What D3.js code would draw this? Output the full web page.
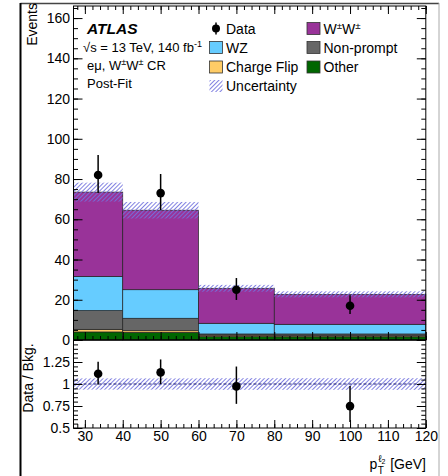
<!DOCTYPE html>
<html>
<head>
<meta charset="utf-8">
<script src="https://cdn.jsdelivr.net/npm/d3@7"></script>
<style>
  body { margin: 0; background: #fff; }
  svg { display: block; font-family: 'Liberation Sans', Arial, Helvetica, sans-serif; }
</style>
</head>
<body>
<div id="chart"></div>
<script>
// 分箱边界 (GeV)
const binEdges = [27, 40, 60, 80, 120]
// 各过程事例数 (post-fit)，自下而上堆叠
const other = [4.0, 3.8, 1.7, 1.6]
const chargeFlip = [1.3, 0.8, 0.7, 0.5]
const nonPrompt = [9.3, 6.2, 0.6, 0.9]
const wz = [17.0, 14.2, 5.3, 4.8]
const wwss = [41.9, 39.5, 17.4, 14.9]
// 本底总不确定度
const bkgUnc = [4.7, 4.1, 1.7, 1.5]
// 数据点
const dataCenters = [33.5, 50, 70, 100]
const dataValues = [82, 73, 25, 17]
const dataErrUp = [10, 9.5, 5.8, 5.2]
const dataErrDown = [9, 8.5, 5.1, 4.1]
// 刻度
const xTicks = [30, 40, 50, 60, 70, 80, 90, 100, 110, 120]
const yTicks = [0, 20, 40, 60, 80, 100, 120, 140, 160]
const ratioTicks = [0.5, 0.75, 1, 1.25, 1.5]

const width = 448
const height = 476
const font = "'Liberation Sans', Arial, Helvetica, sans-serif"

// 面板位置
const plotLeft = 73.5
const plotRight = 425.8
const upperTop = 6
const upperBottom = 340
const lowerTop = 340
const lowerBottom = 428

const keys = ['other', 'chargeFlip', 'nonPrompt', 'wz', 'wwss']
const colors = {
  other: '#006600',
  chargeFlip: '#ffcc66',
  nonPrompt: '#666666',
  wz: '#66ccff',
  wwss: '#993399'
}
const hatchColor = '#7373de'

const bins = binEdges.slice(0, -1).map((lo, i) => ({
  lo,
  hi: binEdges[i + 1],
  other: other[i],
  chargeFlip: chargeFlip[i],
  nonPrompt: nonPrompt[i],
  wz: wz[i],
  wwss: wwss[i]
}))
const totals = bins.map((b) => d3.sum(keys, (k) => b[k]))
const series = d3.stack().keys(keys)(bins)

const x = d3.scaleLinear().domain([binEdges[0], binEdges[binEdges.length - 1]]).range([plotLeft, plotRight])
const y = d3.scaleLinear().domain([0, 166]).range([upperBottom, upperTop])
const yr = d3.scaleLinear().domain([0.5, 1.5]).range([lowerBottom, lowerTop])

const svg = d3.select('#chart')
  .append('svg')
  .attr('width', width)
  .attr('height', height)

// 斜线填充
const defs = svg.append('defs')
defs.append('pattern')
  .attr('id', 'hatch')
  .attr('patternUnits', 'userSpaceOnUse')
  .attr('width', 3)
  .attr('height', 3)
  .attr('patternTransform', 'rotate(45)')
  .append('line')
  .attr('x1', 1.5).attr('y1', 0)
  .attr('x2', 1.5).attr('y2', 3)
  .attr('stroke', hatchColor)
  .attr('stroke-width', 0.9)

// 外框
svg.append('line').attr('x1', 20.5).attr('y1', 3.5).attr('x2', 439).attr('y2', 3.5)
  .attr('stroke', '#444').attr('stroke-width', 1.5)
svg.append('line').attr('x1', 20.5).attr('y1', 3).attr('x2', 20.5).attr('y2', height)
  .attr('stroke', '#000').attr('stroke-width', 2)
svg.append('line').attr('x1', 439).attr('y1', 3).attr('x2', 439).attr('y2', height)
  .attr('stroke', '#aaa').attr('stroke-width', 1)

// 堆叠直方图
const stackGroup = svg.append('g').attr('class', 'stack')
series.forEach((s) => {
  stackGroup.append('g')
    .selectAll('rect')
    .data(s)
    .enter()
    .append('rect')
    .attr('x', (d) => x(d.data.lo))
    .attr('width', (d) => x(d.data.hi) - x(d.data.lo))
    .attr('y', (d) => y(d[1]))
    .attr('height', (d) => y(d[0]) - y(d[1]))
    .attr('fill', colors[s.key])
    .attr('stroke', '#222')
    .attr('stroke-width', 0.7)
})

// 不确定度带
svg.append('g')
  .selectAll('rect')
  .data(bins)
  .enter()
  .append('rect')
  .attr('x', (d) => x(d.lo))
  .attr('width', (d) => x(d.hi) - x(d.lo))
  .attr('y', (d, i) => y(totals[i] + bkgUnc[i]))
  .attr('height', (d, i) => y(totals[i] - bkgUnc[i]) - y(totals[i] + bkgUnc[i]))
  .attr('fill', 'url(#hatch)')

// 比值面板不确定度带
svg.append('g')
  .selectAll('rect')
  .data(bins)
  .enter()
  .append('rect')
  .attr('x', (d) => x(d.lo))
  .attr('width', (d) => x(d.hi) - x(d.lo))
  .attr('y', (d, i) => yr(1 + bkgUnc[i] / totals[i]))
  .attr('height', (d, i) => yr(1 - bkgUnc[i] / totals[i]) - yr(1 + bkgUnc[i] / totals[i]))
  .attr('fill', 'url(#hatch)')

svg.append('line')
  .attr('x1', plotLeft).attr('x2', plotRight)
  .attr('y1', yr(1)).attr('y2', yr(1))
  .attr('stroke', '#1c1c70')
  .attr('stroke-width', 1.2)
  .attr('stroke-dasharray', '3,2')

// 数据点
const points = svg.append('g').attr('class', 'data')
dataValues.forEach((v, i) => {
  const cx = x(dataCenters[i])
  points.append('line')
    .attr('x1', cx).attr('x2', cx)
    .attr('y1', y(v + dataErrUp[i])).attr('y2', y(v - dataErrDown[i]))
    .attr('stroke', '#000').attr('stroke-width', 1.5)
  points.append('circle').attr('cx', cx).attr('cy', y(v)).attr('r', 4.3).attr('fill', '#000')

  const t = totals[i]
  points.append('line')
    .attr('x1', cx).attr('x2', cx)
    .attr('y1', yr((v + dataErrUp[i]) / t)).attr('y2', yr((v - dataErrDown[i]) / t))
    .attr('stroke', '#000').attr('stroke-width', 1.5)
  points.append('circle').attr('cx', cx).attr('cy', yr(v / t)).attr('r', 4.3).attr('fill', '#000')
})

// 坐标轴（刻度朝内）
function drawAxis(transform, axis) {
  const g = svg.append('g')
    .attr('transform', transform)
    .call(axis)
  g.select('.domain').remove()
  g.attr('font-size', 14).attr('font-family', font)
  g.selectAll('.tick line').attr('stroke', '#000').attr('stroke-width', 1)
  g.selectAll('.tick text').attr('fill', '#000')
  return g
}
const xMinor = d3.range(28, 121, 2)
const yMinor = d3.range(0, 166, 5)
const rMinor = d3.range(0.5, 1.5001, 0.05)
const noLabel = () => ''

// 上面板
drawAxis(`translate(0,${upperBottom})`, d3.axisBottom(x).tickValues(xMinor).tickSize(-4).tickFormat(noLabel))
drawAxis(`translate(0,${upperBottom})`, d3.axisBottom(x).tickValues(xTicks).tickSize(-8).tickFormat(noLabel))
drawAxis(`translate(0,${upperTop})`, d3.axisTop(x).tickValues(xMinor).tickSize(-4).tickFormat(noLabel))
drawAxis(`translate(0,${upperTop})`, d3.axisTop(x).tickValues(xTicks).tickSize(-8).tickFormat(noLabel))
drawAxis(`translate(${plotLeft},0)`, d3.axisLeft(y).tickValues(yMinor).tickSize(-4.5).tickFormat(noLabel))
drawAxis(`translate(${plotLeft},0)`, d3.axisLeft(y).tickValues(yTicks).tickSize(-9).tickPadding(3.5))
drawAxis(`translate(${plotRight},0)`, d3.axisRight(y).tickValues(yMinor).tickSize(-4.5).tickFormat(noLabel))
drawAxis(`translate(${plotRight},0)`, d3.axisRight(y).tickValues(yTicks).tickSize(-9).tickFormat(noLabel))

// 比值面板
drawAxis(`translate(0,${lowerBottom})`, d3.axisBottom(x).tickValues(xMinor).tickSize(-4).tickFormat(noLabel))
drawAxis(`translate(0,${lowerBottom})`, d3.axisBottom(x).tickValues(xTicks).tickSize(-8).tickPadding(3))
drawAxis(`translate(${plotLeft},0)`, d3.axisLeft(yr).tickValues(rMinor).tickSize(-4.5).tickFormat(noLabel))
drawAxis(`translate(${plotLeft},0)`, d3.axisLeft(yr).tickValues(ratioTicks).tickSize(-9).tickPadding(3.5)
  .tickFormat((d) => d === 1.5 ? '' : d))
drawAxis(`translate(${plotRight},0)`, d3.axisRight(yr).tickValues(rMinor).tickSize(-4.5).tickFormat(noLabel))
drawAxis(`translate(${plotRight},0)`, d3.axisRight(yr).tickValues(ratioTicks).tickSize(-9).tickFormat(noLabel))

// 面板边框
svg.append('rect')
  .attr('x', plotLeft).attr('y', upperTop)
  .attr('width', plotRight - plotLeft).attr('height', upperBottom - upperTop)
  .attr('fill', 'none').attr('stroke', '#000').attr('stroke-width', 1)
svg.append('rect')
  .attr('x', plotLeft).attr('y', lowerTop)
  .attr('width', plotRight - plotLeft).attr('height', lowerBottom - lowerTop)
  .attr('fill', 'none').attr('stroke', '#000').attr('stroke-width', 1)

// 带上标的文字
function richText(text, parts) {
  let shift = 0
  parts.forEach(([s, mode]) => {
    const target = mode === 'sup' ? -5 : 0
    text.append('tspan')
      .attr('dy', target - shift)
      .attr('font-size', mode === 'sup' ? '0.7em' : null)
      .text(s)
    shift = target
  })
  return text
}
function label(xPos, yPos, size) {
  return svg.append('text')
    .attr('x', xPos).attr('y', yPos)
    .attr('font-size', size)
    .attr('font-family', font)
    .attr('fill', '#000')
}

// 轴标题
label(0, 0, 14)
  .attr('transform', 'translate(37,3) rotate(-90)')
  .attr('text-anchor', 'end')
  .text('Events')
label(0, 0, 14)
  .attr('transform', `translate(33,${(lowerTop + lowerBottom) / 2 - 6}) rotate(-90)`)
  .attr('text-anchor', 'middle')
  .text('Data / Bkg.')

const unit = label(426, 469, 14).attr('text-anchor', 'end').text('[GeV]')
const xs = 426 - unit.node().getComputedTextLength() - 13
label(xs, 469, 14).attr('text-anchor', 'end').text('p')
label(xs + 0.5, 474, 10).text('T')
label(xs + 1, 462, 10).text('ℓ').append('tspan').attr('font-size', 7).attr('dy', 2).text('2')

// ATLAS 标签
label(87, 33.5, 15.5).attr('font-weight', 'bold').attr('font-style', 'italic').text('ATLAS')
richText(label(83, 52, 13), [['√s = 13 TeV, 140 fb'], ['-1', 'sup']])
richText(label(87, 70, 13), [['eμ, W'], ['±', 'sup'], ['W'], ['±', 'sup'], [' CR']])
label(87, 88, 13).text('Post-Fit')

// 图例
const legendRows = [28.5, 47.5, 67, 86]
const legendCols = [209.5, 307]
const legendItems = [
  { type: 'data', col: 0, row: 0, parts: [['Data']] },
  { type: 'box', key: 'wz', col: 0, row: 1, parts: [['WZ']] },
  { type: 'box', key: 'chargeFlip', col: 0, row: 2, parts: [['Charge Flip']] },
  { type: 'hatch', col: 0, row: 3, parts: [['Uncertainty']] },
  { type: 'box', key: 'wwss', col: 1, row: 0, parts: [['W'], ['±', 'sup'], ['W'], ['±', 'sup']] },
  { type: 'box', key: 'nonPrompt', col: 1, row: 1, parts: [['Non-prompt']] },
  { type: 'box', key: 'other', col: 1, row: 2, parts: [['Other']] }
]
const legend = svg.append('g').attr('class', 'legend')
legendItems.forEach((item) => {
  const lx = legendCols[item.col]
  const ly = legendRows[item.row]
  if (item.type === 'data') {
    legend.append('line')
      .attr('x1', lx + 6.5).attr('x2', lx + 6.5)
      .attr('y1', ly - 6).attr('y2', ly + 6)
      .attr('stroke', '#000').attr('stroke-width', 1.5)
    legend.append('circle').attr('cx', lx + 6.5).attr('cy', ly).attr('r', 4).attr('fill', '#000')
  } else {
    legend.append('rect')
      .attr('x', lx).attr('y', ly - 6)
      .attr('width', 13).attr('height', 12)
      .attr('fill', item.type === 'hatch' ? 'url(#hatch)' : colors[item.key])
      .attr('stroke', item.type === 'hatch' ? 'none' : '#333')
      .attr('stroke-width', 0.8)
  }
  richText(label(lx + 16.5, ly + 5, 14), item.parts)
})
</script>
</body>
</html>
